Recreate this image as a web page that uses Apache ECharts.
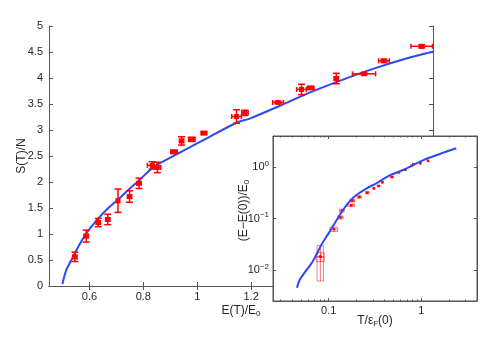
<!DOCTYPE html>
<html><head><meta charset="utf-8">
<script src="https://cdn.jsdelivr.net/npm/echarts@6/dist/echarts.min.js"></script>
<style>html,body{margin:0;padding:0;background:#fff}#c{width:491px;height:341px}</style>
</head><body><div id="c"></div>
<script>
// ---- main panel ----
const mainTicksX = [0.6, 0.8, 1, 1.2, 1.4, 1.6, 1.8];
const mainLabelsX = [0.6, 0.8, 1, 1.2];
const mainPtsX    = [0.546, 0.588, 0.633, 0.668, 0.706, 0.749, 0.784, 0.833, 0.852, 0.914, 0.942, 0.980, 1.025, 1.146, 1.177, 1.300, 1.387, 1.421, 1.516, 1.619, 1.693, 1.833];
const mainPtsY    = [0.56, 0.96, 1.22, 1.28, 1.64, 1.72, 1.975, 2.32, 2.28, 2.58, 2.79, 2.82, 2.94, 3.26, 3.33, 3.53, 3.78, 3.81, 3.99, 4.08, 4.33, 4.61];
const mainPtsXErr = [0.008, 0.008, 0.008, 0.008, 0.005, 0.008, 0.008, 0.018, 0.013, 0.012, 0.008, 0.012, 0.010, 0.018, 0.012, 0.020, 0.018, 0.012, 0.008, 0.043, 0.020, 0.040];
const mainPtsYErr = [0.09, 0.115, 0.08, 0.10, 0.225, 0.11, 0.10, 0.07, 0.10, 0.03, 0.08, 0.04, 0.02, 0.13, 0.05, 0.02, 0.10, 0.02, 0.10, 0.02, 0.03, 0.03];
const mainCurveX  = [0.500, 0.505, 0.515, 0.530, 0.546, 0.567, 0.588, 0.633, 0.670, 0.706, 0.745, 0.784, 0.839, 0.930, 1.010, 1.146, 1.195, 1.309, 1.408, 1.531, 1.655, 1.779, 1.877];
const mainCurveY  = [0.04, 0.15, 0.32, 0.47, 0.63, 0.83, 1.01, 1.30, 1.50, 1.66, 1.85, 2.03, 2.29, 2.55, 2.77, 3.14, 3.22, 3.47, 3.70, 3.95, 4.18, 4.38, 4.51];

// ---- inset panel ----
const insetTicksX  = [0.1, 1];
const insetMinorX  = [0.03, 0.04, 0.05, 0.06, 0.07, 0.08, 0.09, 0.2, 0.3, 0.4, 0.5, 0.6, 0.7, 0.8, 0.9, 2, 3, 4];
const insetTicksY  = [0.01, 0.1, 1];
const insetPtsX    = [0.0813, 0.0813, 0.114, 0.134, 0.139, 0.175, 0.180, 0.214, 0.261, 0.308, 0.346, 0.380, 0.482, 0.573, 0.673, 0.780, 0.820, 0.980, 1.180];
const insetPtsY    = [0.0181, 0.0181, 0.0617, 0.105, 0.142, 0.180, 0.222, 0.262, 0.317, 0.385, 0.428, 0.505, 0.640, 0.789, 0.887, 1.050, 1.130, 1.180, 1.320];
const insetPtsXErr = [0.0065, 0.008, 0.011, 0.009, 0.008, 0.016, 0.012, 0.012, 0.012, 0.008, 0.012, 0.008, 0.022, 0.012, 0.015, 0.015, 0.015, 0.008, 0.008];
const insetPtsYErr = [0.012, 0.0036, 0.006, 0.007, 0.010, 0.010, 0.013, 0.014, 0.017, 0.014, 0.014, 0.014, 0.020, 0.020, 0.020, 0.025, 0.025, 0.020, 0.020];
const insetCurveX  = [0.0454, 0.0485, 0.0676, 0.0834, 0.100, 0.1425, 0.170, 0.199, 0.260, 0.327, 0.450, 0.634, 1.040, 1.580, 2.390];
const insetCurveY  = [0.0045, 0.0064, 0.0150, 0.0308, 0.052, 0.146, 0.220, 0.286, 0.390, 0.483, 0.680, 0.875, 1.350, 1.790, 2.310];

const FONT = 'Liberation Sans';
const TXT = '#262626';
const AX = '#555';
const RED = '#ff0000';
const BLUE = '#2e49f2';

const zip = (a, b) => a.map((v, i) => [v, b[i]]);
const zip4 = (a, b, c, d) => a.map((v, i) => [v, b[i], c[i], d[i]]);

function mainErr(params, api) {
  const x = api.value(0), y = api.value(1), ex = api.value(2), ey = api.value(3);
  const c = api.coord([x, y]);
  const l = api.coord([x - ex, y]), r = api.coord([x + ex, y]);
  const t = api.coord([x, y + ey]), b = api.coord([x, y - ey]);
  const st = { stroke: RED, lineWidth: 1.5 };
  const cx = 3.5, cy = 2.5;
  const L = (x1, y1, x2, y2) => ({ type: 'line', shape: { x1, y1, x2, y2 }, style: st });
  return { type: 'group', children: [
    L(l[0], c[1], r[0], c[1]),
    L(l[0], c[1] - cy, l[0], c[1] + cy),
    L(r[0], c[1] - cy, r[0], c[1] + cy),
    L(c[0], t[1], c[0], b[1]),
    L(c[0] - cx, t[1], c[0] + cx, t[1]),
    L(c[0] - cx, b[1], c[0] + cx, b[1]),
    { type: 'rect', shape: { x: c[0] - 2.5, y: c[1] - 2.5, width: 5, height: 5 }, style: { fill: RED } }
  ]};
}

function insetErr(params, api) {
  const x = api.value(0), y = api.value(1), ex = api.value(2), ey = api.value(3);
  const c = api.coord([x, y]);
  const l = api.coord([x - ex, y]), r = api.coord([x + ex, y]);
  const t = api.coord([x, y + ey]), b = api.coord([x, y - ey]);
  const st = { stroke: 'rgba(255,0,0,0.65)', lineWidth: 0.8 };
  const L = (x1, y1, x2, y2) => ({ type: 'line', shape: { x1, y1, x2, y2 }, style: st });
  return { type: 'group', children: [
    L(l[0], c[1], r[0], c[1]),
    L(c[0], t[1], c[0], b[1]),
    L(l[0], t[1], l[0], b[1]),
    L(r[0], t[1], r[0], b[1]),
    L(l[0], t[1], r[0], t[1]),
    L(l[0], b[1], r[0], b[1]),
    { type: 'rect', shape: { x: c[0] - 1.25, y: c[1] - 1.25, width: 2.5, height: 2.5 }, style: { fill: RED } }
  ]};
}

const sup = v => {
  const e = Math.round(Math.log10(v));
  return '10{s|' + (e === 0 ? '0' : '\u2212' + (-e)) + '}';
};

const labelStyle = { fontFamily: FONT, fontSize: 11, color: TXT };
const richSub = { s: { fontFamily: FONT, fontSize: 8, color: TXT, verticalAlign: 'bottom', padding: [7, 0, 0, 0] } };
const richSup = { s: { fontFamily: FONT, fontSize: 8, color: TXT, verticalAlign: 'top', padding: [0, 0, 7, 0] } };

const option = {
  animation: false,
  backgroundColor: '#fff',
  grid: [
    { left: 49, top: 26, width: 384, height: 260, show: false, z: 0 },
    { left: 273, top: 136, width: 204, height: 165, show: true, backgroundColor: '#fff', borderColor: AX, borderWidth: 1, z: 5 }
  ],
  xAxis: [
    { gridIndex: 0, type: 'value', position: 'bottom', min: 0.45, max: 1.875,
      axisLine: { lineStyle: { color: AX } }, splitLine: { show: false },
      axisTick: { inside: true, length: 4, customValues: mainTicksX, lineStyle: { color: AX } },
      axisLabel: Object.assign({ customValues: mainLabelsX, margin: 5 }, labelStyle),
      name: 'E(T)/E{s|0}', nameLocation: 'middle', nameGap: 17, nameMoveOverlap: false,
      nameTextStyle: Object.assign({ rich: richSub }, labelStyle, { fontSize: 12 }) },
    { gridIndex: 0, type: 'value', position: 'top', min: 0.45, max: 1.875,
      axisLine: { lineStyle: { color: AX } }, splitLine: { show: false },
      axisTick: { inside: true, length: 4, customValues: mainTicksX, lineStyle: { color: AX } },
      axisLabel: { show: false } },
    { gridIndex: 1, type: 'log', position: 'bottom', min: 0.025, max: 4, z: 6,
      axisLine: { lineStyle: { color: AX } }, splitLine: { show: false },
      axisTick: { inside: true, length: 3, customValues: insetTicksX, lineStyle: { color: AX } },
      axisLabel: Object.assign({ customValues: insetTicksX, margin: 4, formatter: v => (v >= 1 ? '1' : '0.1') }, labelStyle),
      name: 'T/\u03b5{s|F}(0)', nameLocation: 'middle', nameGap: 12, nameMoveOverlap: false,
      nameTextStyle: Object.assign({ rich: richSub }, labelStyle, { fontSize: 12 }) },
    { gridIndex: 1, type: 'log', position: 'top', min: 0.025, max: 4, z: 6,
      axisLine: { lineStyle: { color: AX } }, splitLine: { show: false },
      axisTick: { inside: true, length: 3, customValues: insetTicksX, lineStyle: { color: AX } },
      axisLabel: { show: false } },
    { gridIndex: 1, type: 'log', position: 'bottom', min: 0.025, max: 4, z: 6,
      axisLine: { show: false }, splitLine: { show: false },
      axisTick: { inside: true, length: 1.5, customValues: insetMinorX, lineStyle: { color: AX } },
      axisLabel: { show: false } },
    { gridIndex: 1, type: 'log', position: 'top', min: 0.025, max: 4, z: 6,
      axisLine: { show: false }, splitLine: { show: false },
      axisTick: { inside: true, length: 1.5, customValues: insetMinorX, lineStyle: { color: AX } },
      axisLabel: { show: false } }
  ],
  yAxis: [
    { gridIndex: 0, type: 'value', position: 'left', min: 0, max: 5, interval: 0.5,
      axisLine: { show: true, lineStyle: { color: AX } }, splitLine: { show: false },
      axisTick: { show: true, inside: true, length: 4, lineStyle: { color: AX } },
      axisLabel: Object.assign({ margin: 6 }, labelStyle),
      name: 'S(T)/N', nameLocation: 'middle', nameGap: 21, nameMoveOverlap: false,
      nameTextStyle: Object.assign({}, labelStyle, { fontSize: 12 }) },
    { gridIndex: 0, type: 'value', position: 'right', min: 0, max: 5, interval: 0.5,
      axisLine: { show: true, lineStyle: { color: AX } }, splitLine: { show: false },
      axisTick: { show: true, inside: true, length: 4, lineStyle: { color: AX } },
      axisLabel: { show: false } },
    { gridIndex: 1, type: 'log', position: 'left', min: 0.0025, max: 4, z: 6,
      axisLine: { show: true, lineStyle: { color: AX } }, splitLine: { show: false },
      axisTick: { show: true, inside: true, length: 3, customValues: insetTicksY, lineStyle: { color: AX } },
      axisLabel: Object.assign({ customValues: insetTicksY, margin: 4, formatter: sup, rich: richSup }, labelStyle),
      name: '(E\u2212E(0))/E{s|0}', nameLocation: 'middle', nameGap: 22, nameMoveOverlap: false,
      nameTextStyle: Object.assign({ rich: richSub, padding: [0, 0, 0, 16] }, labelStyle, { fontSize: 12 }) },
    { gridIndex: 1, type: 'log', position: 'right', min: 0.0025, max: 4, z: 6,
      axisLine: { show: true, lineStyle: { color: AX } }, splitLine: { show: false },
      axisTick: { show: true, inside: true, length: 3, customValues: insetTicksY, lineStyle: { color: AX } },
      axisLabel: { show: false } }
  ],
  series: [
    { type: 'line', xAxisIndex: 0, yAxisIndex: 0, data: zip(mainCurveX, mainCurveY),
      showSymbol: false, symbol: 'none', smooth: 0.3, lineStyle: { color: BLUE, width: 2 }, z: 2 },
    { type: 'custom', xAxisIndex: 0, yAxisIndex: 0, data: zip4(mainPtsX, mainPtsY, mainPtsXErr, mainPtsYErr),
      renderItem: mainErr, encode: { x: 0, y: 1 }, z: 3 },
    { type: 'custom', xAxisIndex: 2, yAxisIndex: 2, data: zip4(insetPtsX, insetPtsY, insetPtsXErr, insetPtsYErr),
      renderItem: insetErr, encode: { x: 0, y: 1 }, z: 7 },
    { type: 'line', xAxisIndex: 2, yAxisIndex: 2, data: zip(insetCurveX, insetCurveY),
      showSymbol: false, symbol: 'none', smooth: 0.3, lineStyle: { color: BLUE, width: 2 }, z: 8 }
  ]
};
const chart = echarts.init(document.getElementById('c'), null, { renderer: 'canvas' });
chart.setOption(option);
</script>
</body></html>
